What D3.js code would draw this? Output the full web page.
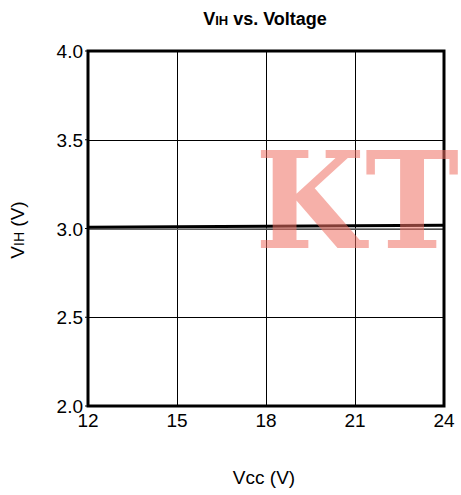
<!DOCTYPE html>
<meta charset="utf-8">
<style>
  body { margin: 0; background: #fff; }
  text { font-family: "Liberation Sans", Arial, sans-serif; fill: #000; }
  .grid line { stroke: #000; stroke-width: 1; shape-rendering: crispEdges; }
  .tick-label { font-size: 19px; }
</style>
<body>
<script src="https://d3js.org/d3.v7.min.js"></script>
<script>

// data
var vcc = [12, 15, 18, 21, 24];
var vihHigh = [3.007, 3.010, 3.013, 3.016, 3.018]; // thick black curve
var vihLow = [2.996, 2.996, 2.997, 2.997, 2.997];  // thin grey curve
var xTicks = [12, 15, 18, 21, 24];
var yTicks = [2.0, 2.5, 3.0, 3.5, 4.0];

var W = 461, H = 495;
var plot = {left: 88, right: 444, top: 51, bottom: 406};

var x = d3.scaleLinear().domain([12, 24]).range([plot.left, plot.right]);
var y = d3.scaleLinear().domain([2.0, 4.0]).range([plot.bottom, plot.top]);

var svg = d3.select("body").append("svg")
  .attr("width", W)
  .attr("height", H);

// grid
var grid = svg.append("g").attr("class", "grid");
grid.selectAll(".gx").data(xTicks.slice(1, -1)).enter().append("line")
  .attr("x1", function(d) { return Math.round(x(d)) + 0.5; })
  .attr("x2", function(d) { return Math.round(x(d)) + 0.5; })
  .attr("y1", plot.top).attr("y2", plot.bottom);
grid.selectAll(".gy").data(yTicks.slice(1, -1)).enter().append("line")
  .attr("y1", function(d) { return Math.round(y(d)) + 0.5; })
  .attr("y2", function(d) { return Math.round(y(d)) + 0.5; })
  .attr("x1", plot.left).attr("x2", plot.right);

// small tick stubs on the left
svg.selectAll(".ytick").data(yTicks).enter().append("line")
  .attr("x1", plot.left - 3).attr("x2", plot.left)
  .attr("y1", function(d) { return y(d); })
  .attr("y2", function(d) { return y(d); })
  .attr("stroke", "#000").attr("stroke-width", 1);

// lines
var line = d3.line()
  .x(function(d, i) { return x(vcc[i]); })
  .y(function(d) { return y(d); });

svg.append("path")
  .attr("d", line(vihLow))
  .attr("fill", "none")
  .attr("stroke", "#666")
  .attr("stroke-width", 1.5);

svg.append("path")
  .attr("d", line(vihHigh))
  .attr("fill", "none")
  .attr("stroke", "#000")
  .attr("stroke-width", 3);

// frame
svg.append("rect")
  .attr("x", plot.left).attr("y", plot.top)
  .attr("width", plot.right - plot.left).attr("height", plot.bottom - plot.top)
  .attr("fill", "none").attr("stroke", "#000").attr("stroke-width", 3);

// tick labels
svg.selectAll(".xl").data(xTicks).enter().append("text")
  .attr("class", "tick-label")
  .attr("x", function(d) { return x(d); })
  .attr("y", plot.bottom + 21)
  .attr("text-anchor", "middle")
  .text(function(d) { return d; });

svg.selectAll(".yl").data(yTicks).enter().append("text")
  .attr("class", "tick-label")
  .attr("x", plot.left - 5)
  .attr("y", function(d) { return y(d) + 7; })
  .attr("text-anchor", "end")
  .text(function(d) { return d.toFixed(1); });

// watermark
svg.append("text")
  .attr("x", 255).attr("y", 248)
  .attr("textLength", 204)
  .attr("lengthAdjust", "spacingAndGlyphs")
  .style("font-family", "'DejaVu Serif', serif")
  .style("font-weight", "bold")
  .style("font-size", "134px")
  .style("fill", "#ee6f62")
  .style("fill-opacity", 0.55)
  .text("KT");

// title
var title = svg.append("text")
  .attr("x", 265).attr("y", 25)
  .attr("text-anchor", "middle")
  .style("font-weight", "bold")
  .style("font-size", "18px");
title.append("tspan").text("V");
title.append("tspan").style("font-size", "13px").text("IH");
title.append("tspan").text(" vs. Voltage");

// axis titles
var yt = svg.append("text")
  .attr("transform", "translate(24,230) rotate(-90)")
  .attr("text-anchor", "middle")
  .style("font-size", "19px");
yt.append("tspan").text("V");
yt.append("tspan").style("font-size", "14px").text("IH");
yt.append("tspan").text(" (V)");

svg.append("text")
  .attr("x", 264).attr("y", 484)
  .attr("text-anchor", "middle")
  .style("font-size", "19px")
  .text("Vcc (V)");

</script>
</body>
